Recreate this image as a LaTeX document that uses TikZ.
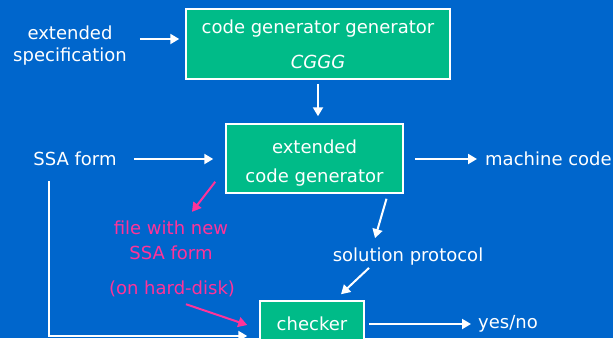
\documentclass[tikz,border=0pt]{standalone}
\usepackage{fontspec}
\setmainfont{DejaVu Sans}
\usetikzlibrary{arrows.meta}

\definecolor{slideblue}{HTML}{0066CC}
\definecolor{boxgreen}{HTML}{00BB88}
\definecolor{notepink}{HTML}{FF3399}

\tikzset{
  txt/.style={text=white, align=center, inner sep=0pt, font=\fontsize{18}{22}\selectfont},
  box/.style={txt, draw=white, line width=1.5pt, fill=boxgreen},
  note/.style={txt, text=notepink},
  flow/.style={draw=white, line width=2pt, -{Triangle[length=9pt,width=10pt]}},
  noteflow/.style={flow, draw=notepink}
}

\begin{document}
\begin{tikzpicture}[x=1pt, y=-1pt]

\fill[slideblue] (0,0) rectangle (613,338);
\useasboundingbox (0,0) rectangle (613,338);

\node[box, minimum width=264pt, minimum height=70pt] (CGGG) at (318,44) {code generator generator\\[13pt]\textit{CGGG}};
\node[txt] (spec) at (70,46) {extended\\specification};
\draw[flow, shorten <=13pt, shorten >=6pt] ([yshift=7pt]spec.east) -- ([yshift=5pt]CGGG.west);

\node[box, minimum width=177pt, minimum height=69pt] (ECG) at (314.5,158.5) {\rule{0pt}{22pt}extended\\[7pt]code generator};
\draw[flow, shorten <=4pt, shorten >=7pt] (CGGG.south) -- (CGGG.south |- ECG.north);

\node[txt] (ssa) at (75,159) {SSA form};
\node[txt, anchor=west] (mcode) at (485,159) {machine code};
\draw[flow, shorten <=17pt, shorten >=12pt] (ssa.east) -- (ssa.east -| ECG.west);
\draw[flow, shorten <=11pt, shorten >=8pt] (ECG.east |- mcode.west) -- (mcode.west);

\node[note] (note_file) at (171,240.5) {file with new\\[3pt]SSA form};
\node[note] (note_disk) at (172,289) {(on hard-disk)};
\draw[noteflow] ([shift={(-10,-12)}]ECG.south west) -- ([shift={(21,-9)}]note_file.north);

\node[txt] (sol) at (408,257) {solution protocol};
\draw[flow] ([shift={(72,5)}]ECG.south) -- ([shift={(-33,-10)}]sol.north);

\node[box, minimum width=104pt, minimum height=46pt] (checker) at (312,324) {checker};
\node[txt, anchor=west] (yesno) at (478,324) {yes/no};
\draw[flow] ([shift={(-39,2)}]sol.south) -- ([shift={(29,-6)}]checker.north);
\draw[flow, shorten <=4pt, shorten >=7pt] (checker.east) -- (yesno.west);

\draw[noteflow] ([shift={(14,7)}]note_disk.south) -- ([shift={(-12,1)}]checker.west);
\draw[flow] ([shift={(-26,15)}]ssa.south) |- ([shift={(-12,12)}]checker.west);

\end{tikzpicture}
\end{document}
